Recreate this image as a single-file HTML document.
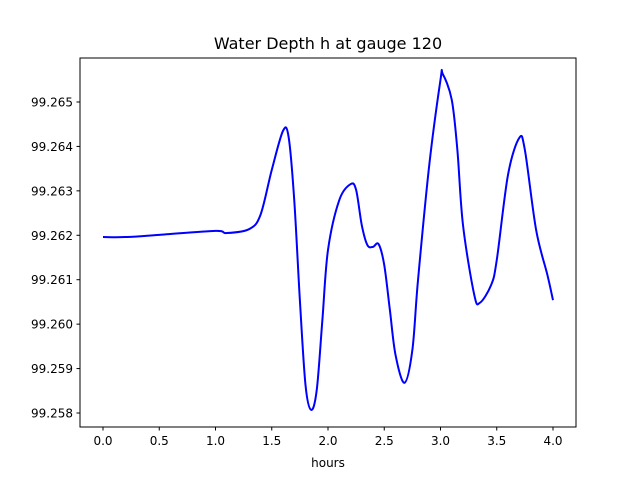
<!DOCTYPE html>
<html><head><meta charset="utf-8"><style>
body{margin:0;background:#fff;}
svg{font-family:"DejaVu Sans","Liberation Sans",sans-serif;}
</style></head><body>
<svg id="chart" width="640" height="480">
<rect width="640" height="480" fill="#fff"/>
<text x="328" y="49" font-size="16" text-anchor="middle">Water Depth h at gauge 120</text>
<g id="ticks"></g>
<path id="line" fill="none" stroke="#0000ff" stroke-width="2"/>
<rect x="80" y="58" width="496" height="369" fill="none" stroke="#000" stroke-width="1"/>
<text x="328" y="467" font-size="12" text-anchor="middle">hours</text>
</svg>
<script>
const hours=[0,0.2,0.5,1.0,1.1,1.3,1.4,1.5,1.6,1.65,1.7,1.75,1.8,1.85,1.9,1.95,2.0,2.1,2.2,2.25,2.3,2.35,2.4,2.45,2.5,2.55,2.6,2.68,2.75,2.8,2.9,3.0,3.02,3.1,3.15,3.2,3.3,3.35,3.45,3.5,3.6,3.7,3.75,3.85,3.95,4.0];
const depth=[99.26196,99.26196,99.26201,99.26210,99.26205,99.26214,99.26246,99.26347,99.26435,99.26421,99.26279,99.26054,99.25863,99.25807,99.25852,99.26009,99.26167,99.26279,99.26315,99.26302,99.26223,99.26178,99.26174,99.26180,99.26133,99.26032,99.25931,99.25868,99.25942,99.26099,99.26358,99.26550,99.26563,99.26505,99.26392,99.26223,99.26066,99.26048,99.26088,99.26144,99.26336,99.26419,99.26392,99.26212,99.26111,99.26054];
const xTicks=[0,0.5,1.0,1.5,2.0,2.5,3.0,3.5,4.0];
const yTicks=[99.258,99.259,99.260,99.261,99.262,99.263,99.264,99.265];
const NS="http://www.w3.org/2000/svg";
const xs=v=>103+v*112.5;
const ys=v=>413-(v-99.258)*44430;
const g=document.getElementById('ticks');
function mk(t,a){const e=document.createElementNS(NS,t);for(const k in a)e.setAttribute(k,a[k]);g.appendChild(e);return e;}
xTicks.forEach(v=>{
 const l=mk('line',{x1:xs(v),x2:xs(v),y1:427,y2:430.5,stroke:'#000'});
 
 
 const t=mk('text',{x:xs(v),y:445,'font-size':12,'text-anchor':'middle'});t.textContent=v.toFixed(1);
 
 
});
yTicks.forEach(v=>{
 const l=mk('line',{x1:76.5,x2:80,y1:ys(v),y2:ys(v),stroke:'#000'});
 
 
 const t=mk('text',{x:73,y:ys(v)+4.5,'font-size':12,'text-anchor':'end'});t.textContent=v.toFixed(3);
 
 
});
const P=hours.map((h,i)=>[xs(h),ys(depth[i])]);
let d='M'+P[0][0]+','+P[0][1];
for(let i=0;i<P.length-1;i++){
 const p0=P[Math.max(0,i-1)],p1=P[i],p2=P[i+1],p3=P[Math.min(P.length-1,i+2)];
 const c1=[p1[0]+(p2[0]-p0[0])/6,p1[1]+(p2[1]-p0[1])/6];
 const c2=[p2[0]-(p3[0]-p1[0])/6,p2[1]-(p3[1]-p1[1])/6];
 d+=` C${c1[0]},${c1[1]} ${c2[0]},${c2[1]} ${p2[0]},${p2[1]}`;
}
document.getElementById('line').setAttribute('d',d);
</script>
</body></html>
